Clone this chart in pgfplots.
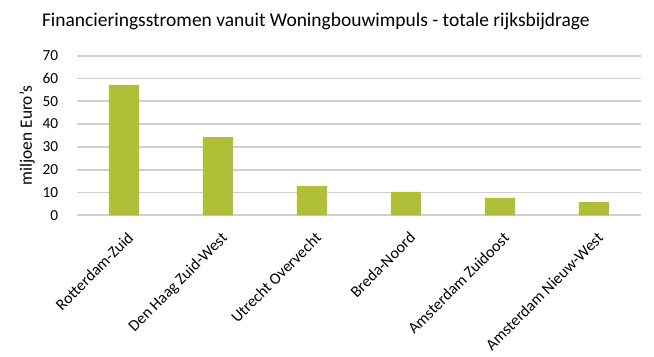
\documentclass[border=0pt]{standalone}
\usepackage{pgfplots}
\pgfplotsset{compat=1.18}
\usepackage{fontspec}
\setmainfont{Carlito}
\definecolor{barc}{RGB}{175,191,56}
\definecolor{gridc}{RGB}{208,208,208}
\begin{document}
\begin{tikzpicture}
\path[use as bounding box] (0,0) rectangle (490.5pt,267.75pt);
\node[anchor=base west, inner sep=0pt, font=\fontsize{14.6}{16}\selectfont] at (31.3pt,247.5pt) {Financieringsstromen vanuit Woningbouwimpuls - totale rijksbijdrage};
\node[rotate=90, inner sep=0pt, font=\fontsize{13}{15}\selectfont] at (20.5pt,166.1pt) {miljoen Euro's};
\begin{axis}[
  at={(57.75pt,106.3pt)}, anchor=south west,
  scale only axis, width=423pt, height=119.7pt,
  xmin=-0.5, xmax=5.5, ymin=0, ymax=70,
  ytick={0,10,...,70},
  xtick=data,
  xticklabels={Rotterdam-Zuid,Den Haag Zuid-West,Utrecht Overvecht,Breda-Noord,Amsterdam Zuidoost,Amsterdam Nieuw-West},
  axis line style={draw=none},
  axis x line*=bottom,
  ymajorgrids, grid style={gridc, line width=1.3pt},
  major tick length=0pt,
  tick style={draw=none},
  /pgf/number format/assume math mode=true,
  yticklabel style={font=\fontsize{11.5}{13}\selectfont, anchor=east, inner sep=0pt, xshift=-14pt},
  xticklabel style={font=\fontsize{12}{14}\selectfont, rotate=45, anchor=north east, inner sep=0pt, xshift=-7pt, yshift=-9.5pt},
  clip=false,
]
\draw[gridc, line width=1.3pt] (axis cs:-0.5,0) -- (axis cs:5.5,0);
\addplot[ybar, bar width=22.5pt, fill=barc, draw=none, bar shift=0pt] coordinates {
(0,57.1) (1,34.3) (2,12.9) (3,10.3) (4,7.6) (5,5.8)};
\end{axis}
\end{tikzpicture}
\end{document}
